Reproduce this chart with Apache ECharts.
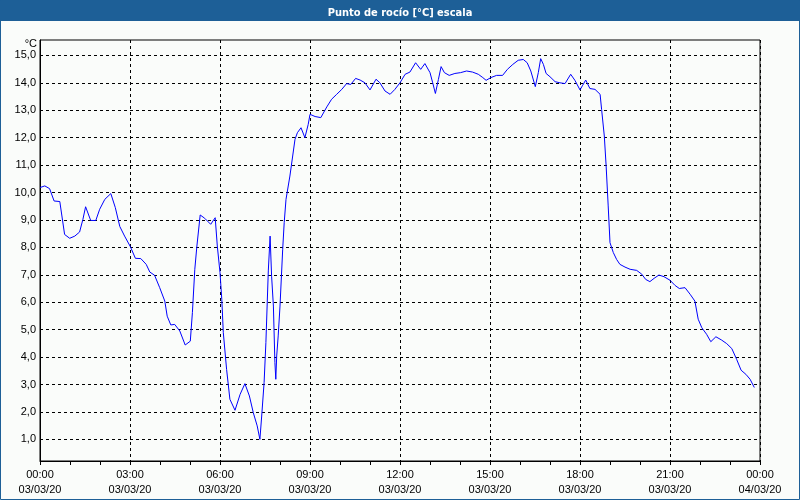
<!DOCTYPE html>
<html>
<head>
<meta charset="utf-8">
<script src="https://cdn.jsdelivr.net/npm/echarts@6/dist/echarts.min.js"></script>
<style>
html,body{margin:0;padding:0;background:#fafcfa;}
#chart{width:800px;height:500px;}
</style>
</head>
<body>
<div id="chart"></div>
<script>
// Data (hours since 03/03/20 00:00, dew point in °C)
const hours = [0, 0.16, 0.32, 0.47, 0.66, 0.72, 0.82, 0.99, 1.16, 1.32, 1.43, 1.52, 1.69, 1.86, 1.99, 2.16, 2.36, 2.51, 2.66, 2.82,
  3.01, 3.18, 3.36, 3.54, 3.66, 3.82, 3.99, 4.16, 4.24, 4.36, 4.49, 4.66, 4.84, 5.01, 5.08, 5.16, 5.23, 5.34, 5.49, 5.69,
  5.84, 5.91, 6.0, 6.06, 6.11, 6.22, 6.33, 6.5, 6.67, 6.83, 6.98, 7.11, 7.24, 7.33, 7.39, 7.47, 7.53, 7.61, 7.67, 7.72,
  7.78, 7.83, 7.86, 7.89, 7.94, 8.0, 8.09, 8.14, 8.2, 8.33, 8.5, 8.58, 8.7, 8.83, 8.94, 9.0, 9.17, 9.36, 9.56, 9.72,
  9.89, 10.06, 10.22, 10.36, 10.52, 10.67, 10.83, 11.0, 11.2, 11.33, 11.5, 11.67, 11.83, 12.0, 12.17, 12.33, 12.52, 12.69, 12.83, 13.0,
  13.09, 13.18, 13.28, 13.37, 13.48, 13.64, 13.83, 14.02, 14.22, 14.42, 14.61, 14.76, 14.87, 15.03, 15.22, 15.42, 15.58, 15.76, 15.94, 16.11,
  16.24, 16.36, 16.51, 16.61, 16.69, 16.78, 16.87, 17.0, 17.17, 17.33, 17.5, 17.69, 17.83, 18.0, 18.09, 18.19, 18.33, 18.5, 18.67, 18.72,
  18.81, 18.87, 18.94, 19.0, 19.11, 19.22, 19.33, 19.5, 19.67, 19.89, 20.06, 20.19, 20.33, 20.47, 20.63, 20.8, 21.0, 21.17, 21.31, 21.5,
  21.67, 21.83, 21.94, 22.06, 22.22, 22.36, 22.53, 22.72, 22.89, 23.06, 23.22, 23.37, 23.53, 23.67, 23.81];
const dewPoint = [10.18, 10.24, 10.14, 9.69, 9.67, 9.62, 8.47, 8.33, 8.41, 8.56, 9.02, 9.48, 8.98, 8.98, 9.39, 9.75, 9.96, 9.45, 8.76, 8.41,
  8.03, 7.60, 7.59, 7.38, 7.10, 6.98, 6.53, 6.04, 5.49, 5.17, 5.19, 4.95, 4.44, 4.58, 5.62, 7.20, 8.05, 9.18, 9.06, 8.84,
  9.08, 8.05, 7.08, 6.10, 4.89, 3.55, 2.46, 2.06, 2.64, 3.03, 2.58, 1.97, 1.49, 1.00, 1.85, 3.07, 4.53, 7.14, 8.41, 6.95,
  5.86, 3.80, 3.19, 4.04, 4.77, 5.86, 7.93, 8.90, 9.75, 10.60, 11.94, 12.18, 12.36, 12.00, 12.48, 12.85, 12.77, 12.73, 13.12, 13.40,
  13.58, 13.76, 13.97, 13.94, 14.16, 14.10, 14.00, 13.74, 14.13, 14.00, 13.70, 13.58, 13.76, 14.00, 14.31, 14.39, 14.73, 14.49, 14.70, 14.37,
  14.00, 13.61, 14.12, 14.59, 14.37, 14.27, 14.34, 14.37, 14.43, 14.39, 14.31, 14.19, 14.09, 14.19, 14.27, 14.27, 14.49, 14.67, 14.82, 14.85,
  14.73, 14.43, 13.86, 14.37, 14.88, 14.67, 14.34, 14.22, 14.04, 14.00, 13.97, 14.31, 14.09, 13.74, 13.91, 14.10, 13.79, 13.76, 13.58, 13.03,
  12.06, 10.99, 9.51, 8.17, 7.81, 7.56, 7.38, 7.28, 7.20, 7.16, 7.02, 6.83, 6.75, 6.87, 6.99, 6.93, 6.80, 6.61, 6.50, 6.53,
  6.29, 6.04, 5.38, 5.07, 4.83, 4.56, 4.74, 4.62, 4.49, 4.31, 3.92, 3.52, 3.37, 3.19, 2.89];

const yTicks = [1, 2, 3, 4, 5, 6, 7, 8, 9, 10, 11, 12, 13, 14, 15];
const xTickHours = [0, 3, 6, 9, 12, 15, 18, 21, 24];
const xTickTimes = ['00:00', '03:00', '06:00', '09:00', '12:00', '15:00', '18:00', '21:00', '00:00'];
const xTickDates = ['03/03/20', '03/03/20', '03/03/20', '03/03/20', '03/03/20', '03/03/20', '03/03/20', '03/03/20', '04/03/20'];
const titleText = 'Punto de rocío [°C] escala';
const unitText = '°C';

const chart = echarts.init(document.getElementById('chart'), null, {renderer: 'canvas'});
const seriesData = hours.map((h, i) => [h, dewPoint[i]]);
const font = 'Liberation Sans';

chart.setOption({
  animation: false,
  backgroundColor: '#fafcfa',
  title: {
    text: titleText,
    left: 'center',
    top: 3,
    textStyle: {color: '#ffffff', fontFamily: 'DejaVu Sans Condensed', fontWeight: 'bold', fontSize: 11}
  },
  graphic: [
    {type: 'rect', z: -1, shape: {x: 0, y: 0, width: 800, height: 21}, style: {fill: '#1d5f97'}},
    {type: 'rect', z: 100, shape: {x: 0.5, y: 0.5, width: 799, height: 499}, style: {fill: null, stroke: '#1d5f97', lineWidth: 1}}
  ],
  grid: {
    left: 40, right: 40, top: 40, bottom: 39,
    show: true, borderColor: '#000', borderWidth: 1, backgroundColor: '#fafcfa'
  },
  xAxis: {
    type: 'value', min: 0, max: 24, interval: 3,
    axisLine: {show: true, lineStyle: {color: '#000', width: 1}},
    axisTick: {show: true, length: 4, lineStyle: {color: '#000'}},
    minorTick: {show: true, splitNumber: 3, length: 4, lineStyle: {color: '#000'}},
    splitLine: {show: true, lineStyle: {color: '#000', type: [3, 3], width: 1}},
    axisLabel: {
      margin: 6, lineHeight: 15, color: '#000', fontFamily: font, fontSize: 11,
      formatter: v => {
        const i = xTickHours.indexOf(v);
        return i >= 0 ? xTickTimes[i] + '\n' + xTickDates[i] : '';
      }
    }
  },
  yAxis: {
    type: 'value', min: 0.21, max: 15.56,
    name: unitText, nameLocation: 'end', nameGap: -11,
    nameTextStyle: {align: 'right', verticalAlign: 'bottom', padding: [0, 3, 0, 0], color: '#000', fontFamily: font, fontSize: 11},
    axisLine: {show: true, lineStyle: {color: '#000', width: 1}},
    axisTick: {show: false, customValues: yTicks},
    splitLine: {show: true, lineStyle: {color: '#000', type: [3, 3], width: 1}},
    axisLabel: {
      customValues: yTicks, margin: 4, color: '#000', fontFamily: font, fontSize: 11,
      formatter: v => v.toFixed(1).replace('.', ',')
    }
  },
  series: [{
    type: 'line', data: seriesData, showSymbol: false, smooth: false,
    lineStyle: {color: '#0000ff', width: 1}, clip: true
  }]
});
</script>
</body>
</html>
